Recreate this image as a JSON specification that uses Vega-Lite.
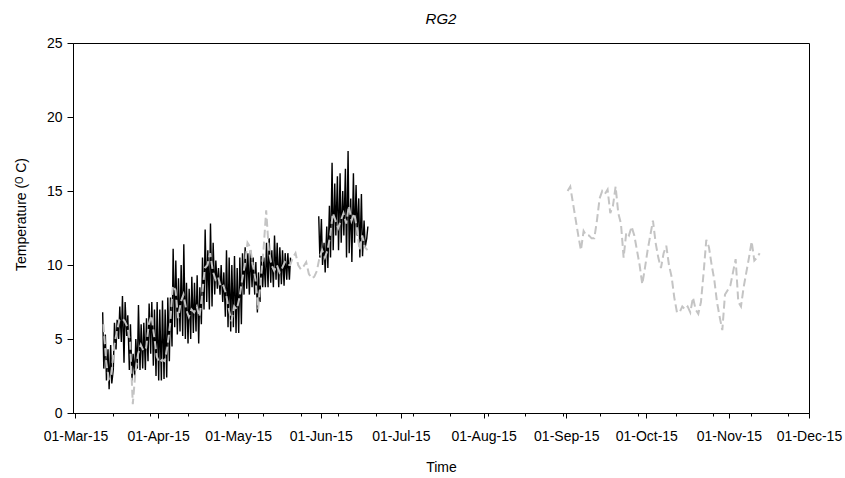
{
  "$schema": "https://vega.github.io/schema/vega-lite/v6.json",
  "autosize": {"type": "none"},
  "width": 736,
  "height": 370,
  "padding": {"left": 73, "top": 43, "right": 36, "bottom": 65},
  "background": "white",
  "title": {"text": "RG2", "font": "Liberation Sans", "fontSize": 15, "fontStyle": "italic", "fontWeight": "normal", "anchor": "middle", "baseline": "alphabetic", "offset": 19, "dy": 22, "color": "black"},
  "config": {
    "view": {"stroke": "black", "strokeWidth": 1},
    "axis": {"labelFont": "Liberation Sans", "titleFont": "Liberation Sans", "labelColor": "black", "titleColor": "black", "domainColor": "black", "tickColor": "black", "grid": false, "titleFontWeight": "normal"}
  },
  "datasets": {
    "blk": [
      {"t":"2015-03-11T05:00","v":6.8,"s":1},{"t":"2015-03-11T15:00","v":3.0,"s":1},
      {"t":"2015-03-12T05:00","v":5.3,"s":1},{"t":"2015-03-12T15:00","v":2.2,"s":1},
      {"t":"2015-03-13T05:00","v":4.3,"s":1},{"t":"2015-03-13T15:00","v":1.6,"s":1},
      {"t":"2015-03-14T05:00","v":4.6,"s":1},{"t":"2015-03-14T15:00","v":2.0,"s":1},
      {"t":"2015-03-15T05:00","v":3.0,"s":1},{"t":"2015-03-15T15:00","v":6.1,"s":1},
      {"t":"2015-03-16T05:00","v":4.3,"s":1},{"t":"2015-03-16T15:00","v":6.3,"s":1},
      {"t":"2015-03-17T05:00","v":5.0,"s":1},{"t":"2015-03-17T15:00","v":7.2,"s":1},
      {"t":"2015-03-18T05:00","v":4.8,"s":1},{"t":"2015-03-18T15:00","v":7.9,"s":1},
      {"t":"2015-03-19T05:00","v":3.4,"s":1},{"t":"2015-03-19T15:00","v":7.5,"s":1},
      {"t":"2015-03-20T05:00","v":5.2,"s":1},{"t":"2015-03-20T15:00","v":6.6,"s":1},
      {"t":"2015-03-21T05:00","v":2.9,"s":1},{"t":"2015-03-21T15:00","v":6.0,"s":1},
      {"t":"2015-03-22T05:00","v":2.2,"s":1},{"t":"2015-03-22T15:00","v":4.0,"s":1},
      {"t":"2015-03-23T05:00","v":2.5,"s":1},{"t":"2015-03-23T15:00","v":5.0,"s":1},
      {"t":"2015-03-24T05:00","v":3.0,"s":1},{"t":"2015-03-24T15:00","v":7.3,"s":1},
      {"t":"2015-03-25T05:00","v":2.9,"s":1},{"t":"2015-03-25T15:00","v":6.0,"s":1},
      {"t":"2015-03-26T05:00","v":3.0,"s":1},{"t":"2015-03-26T15:00","v":6.1,"s":1},
      {"t":"2015-03-27T05:00","v":2.9,"s":1},{"t":"2015-03-27T15:00","v":6.4,"s":1},
      {"t":"2015-03-28T05:00","v":3.5,"s":1},{"t":"2015-03-28T15:00","v":7.4,"s":1},
      {"t":"2015-03-29T05:00","v":4.0,"s":1},{"t":"2015-03-29T15:00","v":7.5,"s":1},
      {"t":"2015-03-30T05:00","v":3.2,"s":1},{"t":"2015-03-30T15:00","v":7.0,"s":1},
      {"t":"2015-03-31T05:00","v":2.5,"s":1},{"t":"2015-03-31T15:00","v":7.5,"s":1},
      {"t":"2015-04-01T05:00","v":2.2,"s":1},{"t":"2015-04-01T15:00","v":7.0,"s":1},
      {"t":"2015-04-02T05:00","v":2.2,"s":1},{"t":"2015-04-02T15:00","v":7.6,"s":1},
      {"t":"2015-04-03T05:00","v":2.3,"s":1},{"t":"2015-04-03T15:00","v":7.0,"s":1},
      {"t":"2015-04-04T05:00","v":2.4,"s":1},{"t":"2015-04-04T15:00","v":7.8,"s":1},
      {"t":"2015-04-05T05:00","v":3.5,"s":1},{"t":"2015-04-05T15:00","v":7.8,"s":1},
      {"t":"2015-04-06T05:00","v":4.5,"s":1},{"t":"2015-04-06T15:00","v":11.1,"s":1},
      {"t":"2015-04-07T05:00","v":5.8,"s":1},{"t":"2015-04-07T15:00","v":10.3,"s":1},
      {"t":"2015-04-08T05:00","v":5.3,"s":1},{"t":"2015-04-08T15:00","v":9.1,"s":1},
      {"t":"2015-04-09T05:00","v":5.5,"s":1},{"t":"2015-04-09T15:00","v":10.0,"s":1},
      {"t":"2015-04-10T05:00","v":5.2,"s":1},{"t":"2015-04-10T15:00","v":11.4,"s":1},
      {"t":"2015-04-11T05:00","v":5.0,"s":1},{"t":"2015-04-11T15:00","v":8.8,"s":1},
      {"t":"2015-04-12T05:00","v":4.7,"s":1},{"t":"2015-04-12T15:00","v":8.4,"s":1},
      {"t":"2015-04-13T05:00","v":5.0,"s":1},{"t":"2015-04-13T15:00","v":9.2,"s":1},
      {"t":"2015-04-14T05:00","v":5.4,"s":1},{"t":"2015-04-14T15:00","v":8.8,"s":1},
      {"t":"2015-04-15T05:00","v":5.5,"s":1},{"t":"2015-04-15T15:00","v":9.3,"s":1},
      {"t":"2015-04-16T05:00","v":4.7,"s":1},{"t":"2015-04-16T15:00","v":8.5,"s":1},
      {"t":"2015-04-17T05:00","v":6.0,"s":1},{"t":"2015-04-17T15:00","v":10.5,"s":1},
      {"t":"2015-04-18T05:00","v":7.0,"s":1},{"t":"2015-04-18T15:00","v":12.4,"s":1},
      {"t":"2015-04-19T05:00","v":7.5,"s":1},{"t":"2015-04-19T15:00","v":11.0,"s":1},
      {"t":"2015-04-20T05:00","v":7.0,"s":1},{"t":"2015-04-20T15:00","v":12.8,"s":1},
      {"t":"2015-04-21T05:00","v":7.2,"s":1},{"t":"2015-04-21T15:00","v":11.5,"s":1},
      {"t":"2015-04-22T05:00","v":8.0,"s":1},{"t":"2015-04-22T15:00","v":10.3,"s":1},
      {"t":"2015-04-23T05:00","v":8.4,"s":1},{"t":"2015-04-23T15:00","v":9.8,"s":1},
      {"t":"2015-04-24T05:00","v":8.0,"s":1},{"t":"2015-04-24T15:00","v":10.0,"s":1},
      {"t":"2015-04-25T05:00","v":7.5,"s":1},{"t":"2015-04-25T15:00","v":9.5,"s":1},
      {"t":"2015-04-26T05:00","v":6.5,"s":1},{"t":"2015-04-26T15:00","v":11.0,"s":1},
      {"t":"2015-04-27T05:00","v":5.8,"s":1},{"t":"2015-04-27T15:00","v":10.5,"s":1},
      {"t":"2015-04-28T05:00","v":5.5,"s":1},{"t":"2015-04-28T15:00","v":10.0,"s":1},
      {"t":"2015-04-29T05:00","v":5.8,"s":1},{"t":"2015-04-29T15:00","v":10.6,"s":1},
      {"t":"2015-04-30T05:00","v":5.4,"s":1},{"t":"2015-04-30T15:00","v":9.8,"s":1},
      {"t":"2015-05-01T05:00","v":5.4,"s":1},{"t":"2015-05-01T15:00","v":10.5,"s":1},
      {"t":"2015-05-02T05:00","v":6.0,"s":1},{"t":"2015-05-02T15:00","v":10.8,"s":1},
      {"t":"2015-05-03T05:00","v":8.0,"s":1},{"t":"2015-05-03T15:00","v":11.2,"s":1},
      {"t":"2015-05-04T05:00","v":8.4,"s":1},{"t":"2015-05-04T15:00","v":10.8,"s":1},
      {"t":"2015-05-05T05:00","v":8.0,"s":1},{"t":"2015-05-05T15:00","v":11.0,"s":1},
      {"t":"2015-05-06T05:00","v":8.5,"s":1},{"t":"2015-05-06T15:00","v":10.5,"s":1},
      {"t":"2015-05-07T05:00","v":8.0,"s":1},{"t":"2015-05-07T15:00","v":10.2,"s":1},
      {"t":"2015-05-08T05:00","v":6.8,"s":1},{"t":"2015-05-08T15:00","v":9.5,"s":1},
      {"t":"2015-05-09T05:00","v":7.5,"s":1},{"t":"2015-05-09T15:00","v":10.6,"s":1},
      {"t":"2015-05-10T05:00","v":8.5,"s":1},{"t":"2015-05-10T15:00","v":10.5,"s":1},
      {"t":"2015-05-11T05:00","v":8.5,"s":1},{"t":"2015-05-11T15:00","v":11.5,"s":1},
      {"t":"2015-05-12T05:00","v":8.5,"s":1},{"t":"2015-05-12T15:00","v":11.8,"s":1},
      {"t":"2015-05-13T05:00","v":8.8,"s":1},{"t":"2015-05-13T15:00","v":11.0,"s":1},
      {"t":"2015-05-14T05:00","v":8.5,"s":1},{"t":"2015-05-14T15:00","v":12.0,"s":1},
      {"t":"2015-05-15T05:00","v":9.0,"s":1},{"t":"2015-05-15T15:00","v":11.5,"s":1},
      {"t":"2015-05-16T05:00","v":8.5,"s":1},{"t":"2015-05-16T15:00","v":11.2,"s":1},
      {"t":"2015-05-17T05:00","v":8.7,"s":1},{"t":"2015-05-17T15:00","v":11.0,"s":1},
      {"t":"2015-05-18T05:00","v":8.6,"s":1},{"t":"2015-05-18T15:00","v":10.8,"s":1},
      {"t":"2015-05-19T05:00","v":9.0,"s":1},{"t":"2015-05-19T15:00","v":10.8,"s":1},
      {"t":"2015-05-20T05:00","v":9.0,"s":1},{"t":"2015-05-20T15:00","v":10.5,"s":1},
      {"t":"2015-05-31T05:00","v":13.3,"s":2},{"t":"2015-05-31T15:00","v":10.5,"s":2},
      {"t":"2015-06-01T05:00","v":13.1,"s":2},{"t":"2015-06-01T15:00","v":10.0,"s":2},
      {"t":"2015-06-02T05:00","v":11.5,"s":2},{"t":"2015-06-02T15:00","v":9.5,"s":2},
      {"t":"2015-06-03T05:00","v":12.6,"s":2},{"t":"2015-06-03T15:00","v":9.8,"s":2},
      {"t":"2015-06-04T05:00","v":14.0,"s":2},{"t":"2015-06-04T15:00","v":10.5,"s":2},
      {"t":"2015-06-05T05:00","v":16.9,"s":2},{"t":"2015-06-05T15:00","v":11.0,"s":2},
      {"t":"2015-06-06T05:00","v":15.5,"s":2},{"t":"2015-06-06T15:00","v":12.0,"s":2},
      {"t":"2015-06-07T05:00","v":16.0,"s":2},{"t":"2015-06-07T15:00","v":11.0,"s":2},
      {"t":"2015-06-08T05:00","v":16.2,"s":2},{"t":"2015-06-08T15:00","v":11.5,"s":2},
      {"t":"2015-06-09T05:00","v":15.0,"s":2},{"t":"2015-06-09T15:00","v":12.0,"s":2},
      {"t":"2015-06-10T05:00","v":16.5,"s":2},{"t":"2015-06-10T15:00","v":10.5,"s":2},
      {"t":"2015-06-11T05:00","v":17.7,"s":2},{"t":"2015-06-11T15:00","v":10.8,"s":2},
      {"t":"2015-06-12T05:00","v":14.5,"s":2},{"t":"2015-06-12T15:00","v":10.2,"s":2},
      {"t":"2015-06-13T05:00","v":16.2,"s":2},{"t":"2015-06-13T15:00","v":11.5,"s":2},
      {"t":"2015-06-14T05:00","v":15.4,"s":2},{"t":"2015-06-14T15:00","v":12.0,"s":2},
      {"t":"2015-06-15T05:00","v":14.5,"s":2},{"t":"2015-06-15T15:00","v":10.5,"s":2},
      {"t":"2015-06-16T05:00","v":14.8,"s":2},{"t":"2015-06-16T15:00","v":10.6,"s":2},
      {"t":"2015-06-17T05:00","v":13.0,"s":2},{"t":"2015-06-17T15:00","v":11.2,"s":2},
      {"t":"2015-06-18T05:00","v":11.8,"s":2},{"t":"2015-06-18T15:00","v":12.6,"s":2}
    ],
    "gry": [
      {"t":"2015-03-11T12:00","v":6.0,"s":1},{"t":"2015-03-12T12:00","v":3.5,"s":1},{"t":"2015-03-13T12:00","v":2.3,"s":1},{"t":"2015-03-14T12:00","v":2.6,"s":1},{"t":"2015-03-15T12:00","v":4.5,"s":1},{"t":"2015-03-16T12:00","v":5.5,"s":1},{"t":"2015-03-17T12:00","v":6.3,"s":1},{"t":"2015-03-18T12:00","v":6.4,"s":1},{"t":"2015-03-19T12:00","v":6.2,"s":1},{"t":"2015-03-20T12:00","v":5.8,"s":1},
      {"t":"2015-03-21T12:00","v":4.8,"s":1},{"t":"2015-03-22T12:00","v":0.6,"s":1},{"t":"2015-03-23T12:00","v":2.8,"s":1},{"t":"2015-03-24T12:00","v":4.0,"s":1},{"t":"2015-03-25T12:00","v":4.6,"s":1},{"t":"2015-03-26T12:00","v":4.2,"s":1},{"t":"2015-03-27T12:00","v":4.4,"s":1},{"t":"2015-03-28T12:00","v":6.0,"s":1},{"t":"2015-03-29T12:00","v":6.6,"s":1},{"t":"2015-03-30T12:00","v":5.2,"s":1},
      {"t":"2015-03-31T12:00","v":3.8,"s":1},{"t":"2015-04-01T12:00","v":3.4,"s":1},{"t":"2015-04-02T12:00","v":3.6,"s":1},{"t":"2015-04-03T12:00","v":3.5,"s":1},{"t":"2015-04-04T12:00","v":4.5,"s":1},{"t":"2015-04-05T12:00","v":6.0,"s":1},{"t":"2015-04-06T12:00","v":8.6,"s":1},{"t":"2015-04-07T12:00","v":8.3,"s":1},{"t":"2015-04-08T12:00","v":6.4,"s":1},{"t":"2015-04-09T12:00","v":7.5,"s":1},
      {"t":"2015-04-10T12:00","v":8.0,"s":1},{"t":"2015-04-11T12:00","v":7.0,"s":1},{"t":"2015-04-12T12:00","v":6.5,"s":1},{"t":"2015-04-13T12:00","v":7.0,"s":1},{"t":"2015-04-14T12:00","v":6.8,"s":1},{"t":"2015-04-15T12:00","v":7.2,"s":1},{"t":"2015-04-16T12:00","v":6.5,"s":1},{"t":"2015-04-17T12:00","v":8.0,"s":1},{"t":"2015-04-18T12:00","v":9.8,"s":1},{"t":"2015-04-19T12:00","v":10.0,"s":1},
      {"t":"2015-04-20T12:00","v":10.8,"s":1},{"t":"2015-04-21T12:00","v":9.6,"s":1},{"t":"2015-04-22T12:00","v":9.0,"s":1},{"t":"2015-04-23T12:00","v":9.2,"s":1},{"t":"2015-04-24T12:00","v":8.5,"s":1},{"t":"2015-04-25T12:00","v":8.6,"s":1},{"t":"2015-04-26T12:00","v":8.0,"s":1},{"t":"2015-04-27T12:00","v":7.0,"s":1},{"t":"2015-04-28T12:00","v":6.2,"s":1},{"t":"2015-04-29T12:00","v":7.2,"s":1},
      {"t":"2015-04-30T12:00","v":7.0,"s":1},{"t":"2015-05-01T12:00","v":7.8,"s":1},{"t":"2015-05-02T12:00","v":9.0,"s":1},{"t":"2015-05-03T12:00","v":10.0,"s":1},{"t":"2015-05-04T12:00","v":11.5,"s":1},{"t":"2015-05-05T12:00","v":11.2,"s":1},{"t":"2015-05-06T12:00","v":10.0,"s":1},{"t":"2015-05-07T12:00","v":9.0,"s":1},{"t":"2015-05-08T12:00","v":7.0,"s":1},{"t":"2015-05-09T12:00","v":9.0,"s":1},
      {"t":"2015-05-10T12:00","v":11.0,"s":1},{"t":"2015-05-11T12:00","v":13.7,"s":1},{"t":"2015-05-12T12:00","v":11.0,"s":1},{"t":"2015-05-13T12:00","v":10.0,"s":1},{"t":"2015-05-14T12:00","v":9.6,"s":1},{"t":"2015-05-15T12:00","v":10.0,"s":1},{"t":"2015-05-16T12:00","v":9.5,"s":1},{"t":"2015-05-17T12:00","v":9.8,"s":1},{"t":"2015-05-18T12:00","v":10.2,"s":1},{"t":"2015-05-19T12:00","v":10.0,"s":1},
      {"t":"2015-05-20T12:00","v":10.0,"s":1},{"t":"2015-05-21T12:00","v":10.5,"s":1},{"t":"2015-05-22T12:00","v":10.8,"s":1},{"t":"2015-05-23T12:00","v":10.0,"s":1},{"t":"2015-05-24T12:00","v":9.7,"s":1},{"t":"2015-05-25T12:00","v":9.9,"s":1},{"t":"2015-05-26T12:00","v":10.2,"s":1},{"t":"2015-05-27T12:00","v":9.4,"s":1},{"t":"2015-05-28T12:00","v":9.1,"s":1},{"t":"2015-05-29T12:00","v":9.2,"s":1},
      {"t":"2015-05-30T12:00","v":9.6,"s":1},{"t":"2015-05-31T12:00","v":10.5,"s":1},{"t":"2015-06-01T12:00","v":11.0,"s":1},{"t":"2015-06-02T12:00","v":10.5,"s":1},{"t":"2015-06-03T12:00","v":11.0,"s":1},{"t":"2015-06-04T12:00","v":12.0,"s":1},{"t":"2015-06-05T12:00","v":13.5,"s":1},{"t":"2015-06-06T12:00","v":13.0,"s":1},{"t":"2015-06-07T12:00","v":12.5,"s":1},{"t":"2015-06-08T12:00","v":13.0,"s":1},
      {"t":"2015-06-09T12:00","v":13.5,"s":1},{"t":"2015-06-10T12:00","v":12.8,"s":1},{"t":"2015-06-11T12:00","v":14.0,"s":1},{"t":"2015-06-12T12:00","v":13.0,"s":1},{"t":"2015-06-13T12:00","v":13.5,"s":1},{"t":"2015-06-14T12:00","v":12.5,"s":1},{"t":"2015-06-15T12:00","v":11.0,"s":1},{"t":"2015-06-16T12:00","v":12.0,"s":1},{"t":"2015-06-17T12:00","v":11.2,"s":1},{"t":"2015-06-18T12:00","v":11.0,"s":1},
      {"t":"2015-09-01T12:00","v":15.0,"s":2},{"t":"2015-09-02T12:00","v":15.3,"s":2},{"t":"2015-09-03T12:00","v":14.2,"s":2},{"t":"2015-09-04T12:00","v":13.1,"s":2},{"t":"2015-09-05T12:00","v":12.0,"s":2},{"t":"2015-09-06T12:00","v":11.0,"s":2},{"t":"2015-09-07T12:00","v":12.3,"s":2},{"t":"2015-09-08T12:00","v":12.0,"s":2},{"t":"2015-09-09T12:00","v":12.0,"s":2},{"t":"2015-09-10T12:00","v":11.8,"s":2},
      {"t":"2015-09-11T12:00","v":11.8,"s":2},{"t":"2015-09-12T12:00","v":13.0,"s":2},{"t":"2015-09-13T12:00","v":14.5,"s":2},{"t":"2015-09-14T12:00","v":15.0,"s":2},{"t":"2015-09-15T12:00","v":14.8,"s":2},{"t":"2015-09-16T12:00","v":15.1,"s":2},{"t":"2015-09-17T12:00","v":13.5,"s":2},{"t":"2015-09-18T12:00","v":14.0,"s":2},{"t":"2015-09-19T12:00","v":15.3,"s":2},{"t":"2015-09-20T12:00","v":13.5,"s":2},
      {"t":"2015-09-21T12:00","v":12.8,"s":2},{"t":"2015-09-22T12:00","v":10.5,"s":2},{"t":"2015-09-23T12:00","v":12.2,"s":2},{"t":"2015-09-24T12:00","v":12.0,"s":2},{"t":"2015-09-25T12:00","v":12.6,"s":2},{"t":"2015-09-26T12:00","v":12.0,"s":2},{"t":"2015-09-27T12:00","v":11.0,"s":2},{"t":"2015-09-28T12:00","v":10.0,"s":2},{"t":"2015-09-29T12:00","v":8.7,"s":2},{"t":"2015-09-30T12:00","v":9.8,"s":2},
      {"t":"2015-10-01T12:00","v":11.0,"s":2},{"t":"2015-10-02T12:00","v":12.0,"s":2},{"t":"2015-10-03T12:00","v":13.0,"s":2},{"t":"2015-10-04T12:00","v":11.5,"s":2},{"t":"2015-10-05T12:00","v":10.5,"s":2},{"t":"2015-10-06T12:00","v":9.8,"s":2},{"t":"2015-10-07T12:00","v":10.8,"s":2},{"t":"2015-10-08T12:00","v":11.3,"s":2},{"t":"2015-10-09T12:00","v":10.0,"s":2},{"t":"2015-10-10T12:00","v":9.2,"s":2},
      {"t":"2015-10-11T12:00","v":7.8,"s":2},{"t":"2015-10-12T12:00","v":6.8,"s":2},{"t":"2015-10-13T12:00","v":6.8,"s":2},{"t":"2015-10-14T12:00","v":7.2,"s":2},{"t":"2015-10-15T12:00","v":7.0,"s":2},{"t":"2015-10-16T12:00","v":7.2,"s":2},{"t":"2015-10-17T12:00","v":6.8,"s":2},{"t":"2015-10-18T12:00","v":7.8,"s":2},{"t":"2015-10-19T12:00","v":7.0,"s":2},{"t":"2015-10-20T12:00","v":6.7,"s":2},
      {"t":"2015-10-21T12:00","v":7.5,"s":2},{"t":"2015-10-22T12:00","v":9.5,"s":2},{"t":"2015-10-23T12:00","v":11.7,"s":2},{"t":"2015-10-24T12:00","v":11.2,"s":2},{"t":"2015-10-25T12:00","v":10.0,"s":2},{"t":"2015-10-26T12:00","v":9.0,"s":2},{"t":"2015-10-27T12:00","v":7.5,"s":2},{"t":"2015-10-28T12:00","v":6.5,"s":2},{"t":"2015-10-29T12:00","v":5.6,"s":2},{"t":"2015-10-30T12:00","v":8.0,"s":2},
      {"t":"2015-10-31T12:00","v":8.3,"s":2},{"t":"2015-11-01T12:00","v":8.6,"s":2},{"t":"2015-11-02T12:00","v":9.5,"s":2},{"t":"2015-11-03T12:00","v":10.4,"s":2},{"t":"2015-11-04T12:00","v":7.5,"s":2},{"t":"2015-11-05T12:00","v":7.2,"s":2},{"t":"2015-11-06T12:00","v":8.5,"s":2},{"t":"2015-11-07T12:00","v":9.5,"s":2},{"t":"2015-11-08T12:00","v":10.5,"s":2},{"t":"2015-11-09T12:00","v":11.6,"s":2},
      {"t":"2015-11-10T12:00","v":10.3,"s":2},{"t":"2015-11-11T12:00","v":10.5,"s":2},{"t":"2015-11-12T12:00","v":10.8,"s":2}
    ]
  },
  "resolve": {"axis": {"x": "independent"}},
  "layer": [
    {
      "data": {"name": "blk"},
      "mark": {"type": "line", "color": "black", "strokeWidth": 1.4, "clip": true},
      "encoding": {
        "x": {"field": "t", "type": "temporal",
          "scale": {"type": "time", "domain": [{"year": 2015, "month": "feb", "date": 28, "hours": 2}, {"year": 2015, "month": "dec", "date": 1}], "nice": false},
          "axis": {"orient": "bottom", "title": "Time", "titleFontSize": 14, "titleY": 58.5, "titleBaseline": "alphabetic", "format": "%d-%b-%y", "labelFontSize": 14, "labelPadding": 11, "labelBaseline": "top", "tickSize": 5, "domainWidth": 1, "labelOverlap": false, "labelFlush": false,
            "values": [
              {"year": 2015, "month": "mar", "date": 1}, {"year": 2015, "month": "apr", "date": 1}, {"year": 2015, "month": "may", "date": 1},
              {"year": 2015, "month": "jun", "date": 1}, {"year": 2015, "month": "jul", "date": 1}, {"year": 2015, "month": "aug", "date": 1},
              {"year": 2015, "month": "sep", "date": 1}, {"year": 2015, "month": "oct", "date": 1}, {"year": 2015, "month": "nov", "date": 1},
              {"year": 2015, "month": "dec", "date": 1}
            ]}},
        "y": {"field": "v", "type": "quantitative",
          "scale": {"domain": [0, 25], "nice": false, "zero": true},
          "axis": {"title": "Temperature (ᴼ C)", "titleFontSize": 14, "titleAngle": -90, "titleX": -48, "titleY": 171, "titleAlign": "center", "titleBaseline": "alphabetic", "values": [0, 5, 10, 15, 20, 25], "labelFontSize": 14, "labelPadding": 5, "tickSize": 6, "domainWidth": 1}},
        "detail": {"field": "s", "type": "nominal"}
      }
    },
    {
      "data": {"name": "gry"},
      "mark": {"type": "line", "color": "#c4c4c4", "strokeWidth": 2, "strokeDash": [8, 4], "clip": true},
      "encoding": {
        "x": {"field": "t", "type": "temporal",
          "axis": {"orient": "bottom", "title": null, "labels": false, "domain": false, "tickSize": 3, "grid": false,
            "values": [
              {"year": 2015, "month": "mar", "date": 15, "hours": 1}, {"year": 2015, "month": "mar", "date": 29, "hours": 3},
              {"year": 2015, "month": "apr", "date": 12, "hours": 4}, {"year": 2015, "month": "apr", "date": 26, "hours": 6},
              {"year": 2015, "month": "may", "date": 10, "hours": 7}, {"year": 2015, "month": "may", "date": 24, "hours": 9},
              {"year": 2015, "month": "jun", "date": 7, "hours": 10}, {"year": 2015, "month": "jun", "date": 21, "hours": 12},
              {"year": 2015, "month": "jul", "date": 5, "hours": 13}, {"year": 2015, "month": "jul", "date": 19, "hours": 14},
              {"year": 2015, "month": "aug", "date": 2, "hours": 16}, {"year": 2015, "month": "aug", "date": 16, "hours": 17},
              {"year": 2015, "month": "aug", "date": 30, "hours": 19}, {"year": 2015, "month": "sep", "date": 13, "hours": 20},
              {"year": 2015, "month": "sep", "date": 27, "hours": 22}, {"year": 2015, "month": "oct", "date": 11, "hours": 23},
              {"year": 2015, "month": "oct", "date": 26, "hours": 1}, {"year": 2015, "month": "nov", "date": 9, "hours": 2},
              {"year": 2015, "month": "nov", "date": 23, "hours": 3}
            ]}},
        "y": {"field": "v", "type": "quantitative"},
        "detail": {"field": "s", "type": "nominal"}
      }
    }
  ]
}
